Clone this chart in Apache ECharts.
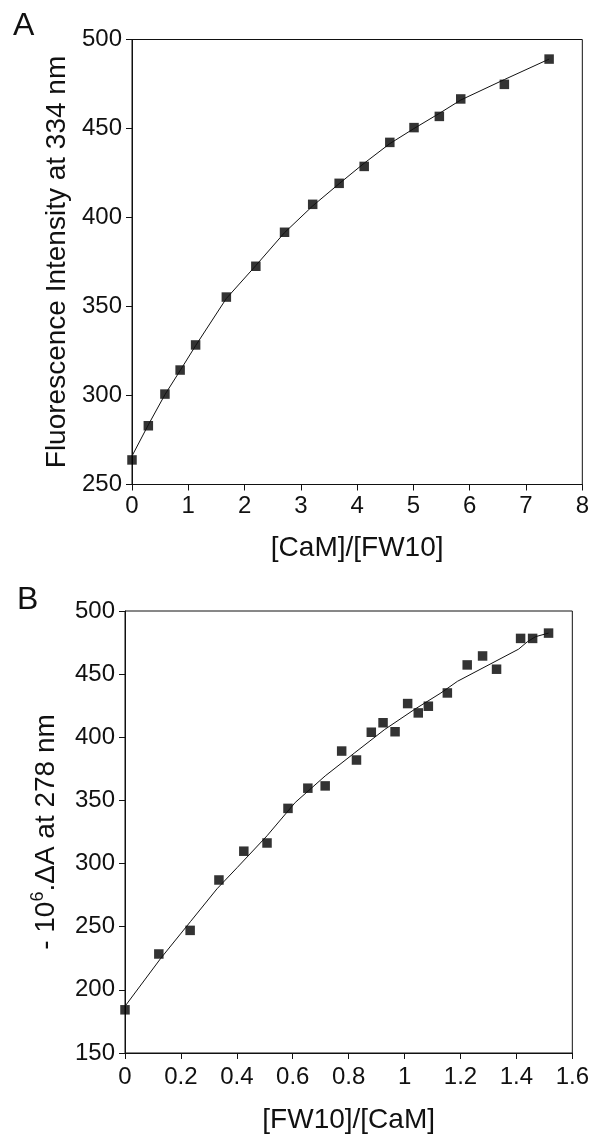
<!DOCTYPE html>
<html>
<head>
<meta charset="utf-8">
<script src="https://cdn.jsdelivr.net/npm/echarts@6/dist/echarts.min.js"></script>
<style>
    html, body { margin: 0; padding: 0; background: #fff; }
    #chart { width: 592px; height: 1135px; }
</style>
</head>
<body>
<div id="chart"></div>
<script>
// panel A - fluorescence titration
const aX = [0, 0.29, 0.585, 0.855, 1.13, 1.676, 2.2, 2.71, 3.21, 3.68, 4.125, 4.58, 5.01, 5.46, 5.84, 6.615, 7.41];
const aY = [263.8, 283.0, 300.8, 314.3, 328.4, 355.3, 372.6, 391.7, 407.4, 419.2, 428.7, 442.2, 450.5, 456.8, 466.6, 474.8, 489];
const aFitY = [266, 283.5, 300.5, 314, 328, 354.5, 373, 391.5, 406.5, 419, 430.5, 441.5, 450, 458.5, 466, 477.5, 489];

// panel B - absorbance difference
const bX = [0, 0.121, 0.233, 0.336, 0.425, 0.508, 0.583, 0.654, 0.716, 0.775, 0.828, 0.881, 0.923, 0.966, 1.011, 1.049, 1.085, 1.153, 1.224, 1.279, 1.329, 1.415, 1.458, 1.515];
const bY = [184.2, 228.4, 247.1, 287, 309.8, 316.3, 343.7, 359.7, 361.5, 389.1, 382, 404, 411.5, 404.4, 426.7, 419.3, 424.6, 435.1, 457.3, 464.4, 453.9, 478.3, 478.3, 482.5];
const bFitX = [0, 0.128, 0.234, 0.329, 0.402, 0.508, 0.609, 0.716, 0.822, 0.929, 1.035, 1.13, 1.189, 1.408, 1.44, 1.469, 1.515];
const bFitY = [187, 225, 254, 280, 297, 322, 348.4, 369.4, 387.8, 406.2, 422, 435.1, 444.3, 469.8, 475.8, 479.7, 482.5];

const FONT = '"Liberation Sans", Arial, Helvetica, sans-serif';
const ink = '#111';

function zip(xs, ys) {
    return xs.map((x, i) => [x, ys[i]]);
}

// common axis style
function axisBase(fontSize) {
    return {
        axisLine: { show: true, lineStyle: { color: ink, width: 1 } },
        axisTick: { show: true, inside: false, length: 6, lineStyle: { color: ink, width: 1 } },
        splitLine: { show: false },
        axisLabel: { color: ink, fontSize: fontSize, fontFamily: FONT, margin: 10 },
        nameTextStyle: { color: ink, fontSize: 28, fontFamily: FONT },
        nameLocation: 'middle'
    };
}

const chart = echarts.init(document.getElementById('chart'), null, { renderer: 'canvas' });

const option = {
    backgroundColor: '#fff',
    animation: false,
    graphic: [
        { type: 'text', left: 13, top: 10, style: { text: 'A', font: '32px ' + FONT, fill: ink } },
        { type: 'text', left: 17, top: 584, style: { text: 'B', font: '32px ' + FONT, fill: ink } }
    ],
    grid: [
        { left: 132, top: 39.5, width: 451, height: 445, show: true, borderColor: ink, borderWidth: 1 },
        { left: 125, top: 611, width: 450.5, height: 444, show: true, borderColor: ink, borderWidth: 1 }
    ],
    xAxis: [
        Object.assign(axisBase(24), {
            gridIndex: 0, type: 'value', min: 0, max: 8, interval: 1,
            name: '[CaM]/[FW10]', nameGap: 50
        }),
        Object.assign(axisBase(24), {
            gridIndex: 1, type: 'value', min: 0, max: 1.6, interval: 0.2,
            name: '[FW10]/[CaM]', nameGap: 53,
            axisLabel: { color: ink, fontSize: 24, fontFamily: FONT, margin: 12, showMaxLabel: true }
        })
    ],
    yAxis: [
        Object.assign(axisBase(24), {
            gridIndex: 0, type: 'value', min: 250, max: 500, interval: 50,
            name: 'Fluorescence Intensity at 334 nm', nameGap: 60
        }),
        Object.assign(axisBase(24), {
            gridIndex: 1, type: 'value', min: 150, max: 500, interval: 50,
            name: '- 10{sup|6}.ΔA at 278 nm', nameGap: 62,
            nameTextStyle: {
                color: ink, fontSize: 28, fontFamily: FONT, lineHeight: 34,
                rich: {
                    sup: { fontSize: 18, fontFamily: FONT, color: ink, verticalAlign: 'top', lineHeight: 34 }
                }
            }
        })
    ],
    series: [
        {
            type: 'line', xAxisIndex: 0, yAxisIndex: 0,
            data: zip(aX, aFitY), showSymbol: false, smooth: false,
            lineStyle: { color: ink, width: 1 }, silent: true
        },
        {
            type: 'scatter', xAxisIndex: 0, yAxisIndex: 0,
            data: zip(aX, aY), symbol: 'rect', symbolSize: 9.5,
            itemStyle: { color: '#000' }
        },
        {
            type: 'line', xAxisIndex: 1, yAxisIndex: 1,
            data: zip(bFitX, bFitY), showSymbol: false, smooth: false,
            lineStyle: { color: ink, width: 1 }, silent: true
        },
        {
            type: 'scatter', xAxisIndex: 1, yAxisIndex: 1,
            data: zip(bX, bY), symbol: 'rect', symbolSize: 9.5,
            itemStyle: { color: '#000' }
        }
    ]
};

chart.setOption(option);
</script>
</body>
</html>
